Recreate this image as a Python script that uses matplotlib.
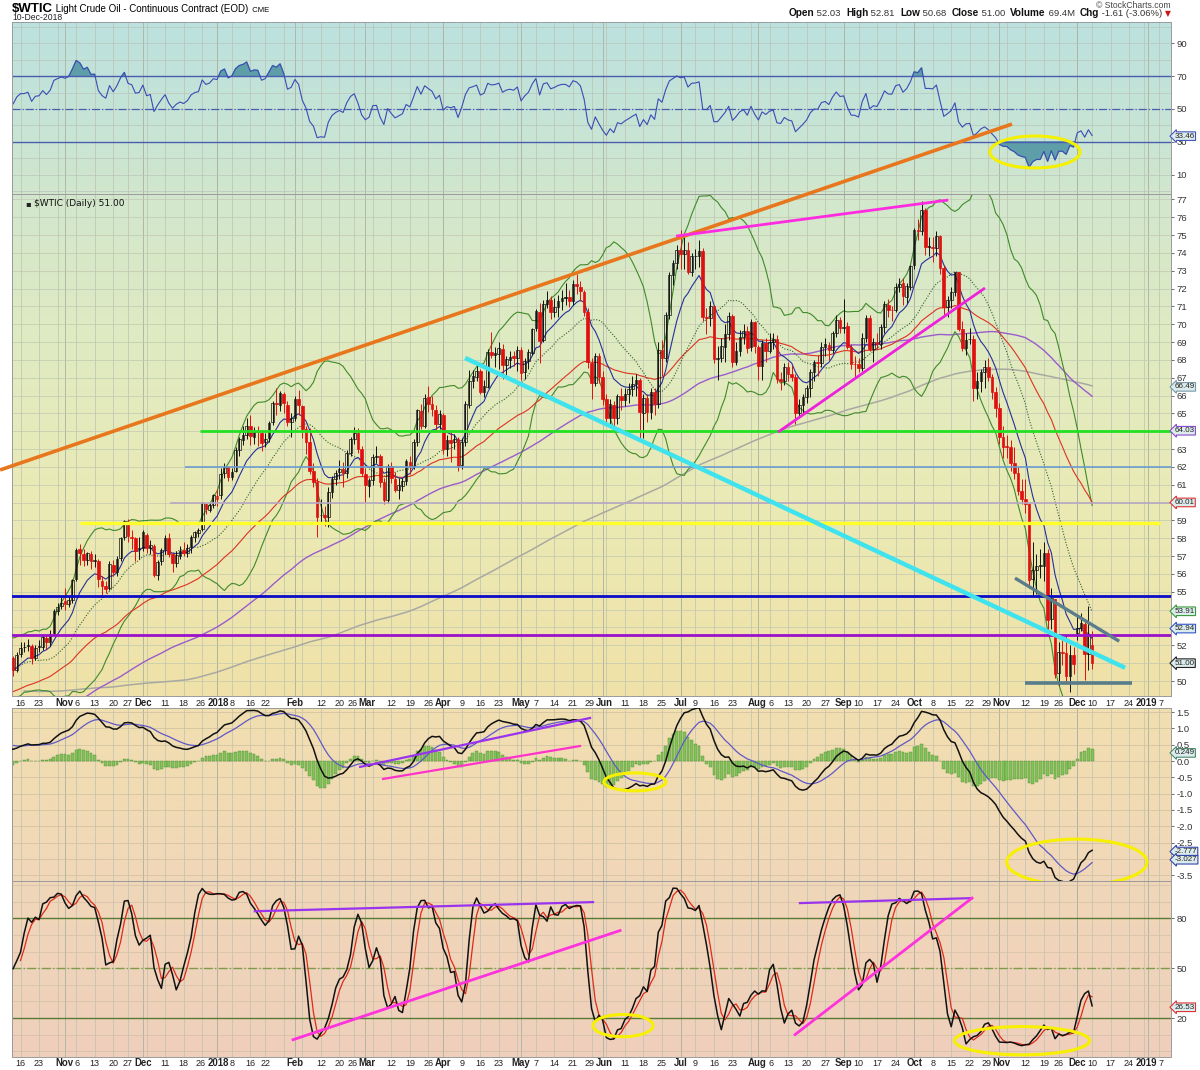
import numpy as np
import pandas as pd
import matplotlib
matplotlib.use("Agg")
import matplotlib.pyplot as plt
import matplotlib.transforms as mtransforms
from matplotlib.patches import Ellipse

plt.rcParams['font.family'] = ['Liberation Sans', 'DejaVu Sans']

W, H = 1200, 1070

holidays = ['2017-01-16', '2017-02-20', '2017-04-14', '2017-05-29', '2017-07-04',
            '2017-09-04', '2017-11-23', '2017-12-25', '2018-01-01', '2018-01-15',
            '2018-02-19', '2018-03-30', '2018-05-28', '2018-07-04', '2018-09-03',
            '2018-11-22', '2018-12-05', '2018-12-25', '2019-01-01']

# closes only, 2017-01-03 .. 2017-09-20 (used to warm up the long averages)
warmup_closes = [
    52.33, 53.26, 53.76, 53.99, 51.96, 50.82, 52.25, 53.01, 52.37, 52.48, 51.08, 51.37, 52.42, 52.75, 53.18, 52.75, 53.78, 53.17, 52.63, 52.81,
    53.88, 53.54, 53.83, 53.01, 52.17, 52.34, 53.00, 53.86, 52.93, 53.20, 53.11, 53.36, 53.40, 54.06, 53.59, 54.45, 53.99, 54.05, 54.01,
    53.83, 52.61, 53.33, 53.20, 53.14, 50.28, 49.28, 48.49, 48.40, 47.72, 48.86, 48.75, 48.78, 48.22, 47.34, 47.04, 47.70, 47.97, 47.73, 48.37, 49.51, 50.35, 50.60,
    50.24, 51.03, 51.15, 51.70, 52.24, 53.08, 53.40, 53.11, 53.18, 52.65, 52.41, 50.44, 50.27, 49.62, 49.23, 49.56, 49.62, 48.97, 49.33,
    48.84, 47.66, 47.82, 45.52, 46.22, 46.43, 45.88, 47.33, 47.83, 47.84, 48.85, 48.66, 49.07, 49.35, 50.33, 50.73, 51.47, 51.36, 48.90, 49.80, 49.66, 48.32,
    48.36, 47.66, 47.40, 48.19, 45.72, 45.64, 45.83, 46.08, 46.46, 44.73, 44.46, 44.74, 44.20, 43.23, 42.53, 42.74, 43.01, 43.38, 44.24, 44.74, 44.93, 46.04,
    47.07, 45.13, 45.52, 44.23, 44.40, 45.04, 45.49, 46.08, 46.54, 46.02, 46.40, 47.12, 46.79, 45.77, 46.34, 47.89, 48.75, 49.04, 49.71, 50.17,
    49.16, 49.59, 49.03, 49.58, 49.39, 49.17, 49.56, 48.59, 48.82, 47.59, 47.55, 46.78, 47.09, 48.51, 47.37, 47.64, 48.41, 47.43, 47.87, 46.57, 46.44, 45.96, 47.23,
    47.29, 48.66, 49.16, 49.09, 47.48, 48.07, 48.23, 49.30, 49.89, 49.89, 49.91, 49.48, 50.69,
]

# daily OHLC, 2017-09-21 .. 2018-12-10
opens = [
    50.70, 50.55, 50.70, 52.20, 51.90, 52.10, 51.55, 51.60, 50.55, 50.40, 50.00, 50.75, 49.30, 49.60, 50.90, 51.30, 50.60,
    51.50, 51.90, 51.95, 51.95, 51.30, 51.90, 51.92, 52.40, 52.20, 52.68, 53.95, 54.20,
    54.50, 54.30, 54.55, 55.70, 57.40, 57.10, 56.80, 57.10, 56.75, 56.70, 55.60, 55.30, 55.20, 56.50, 56.10, 56.90, 58.05, 58.90, 58.10, 58.00, 57.40,
    57.45, 58.20, 57.45, 57.55, 55.95, 56.70, 57.40, 58.00, 57.10, 56.60, 57.00, 57.35, 57.20, 57.50, 58.10, 58.30, 58.50, 59.95, 59.60, 59.85,
    60.20, 60.40, 61.65, 62.00, 61.45, 61.75, 62.95, 63.50, 63.80, 64.30, 63.70, 63.95, 63.90, 63.40, 63.60, 64.50, 65.60, 65.50, 66.10, 65.50, 64.50,
    64.75, 65.80, 65.40, 64.15, 63.40, 61.80, 61.15, 59.30, 59.30, 59.20, 60.60, 61.30, 61.70, 61.90, 61.65, 62.80, 63.55, 63.90, 63.00,
    61.60, 60.95, 61.25, 62.55, 62.60, 61.15, 60.15, 62.05, 61.35, 60.70, 60.95, 61.20, 62.30, 62.05, 63.40, 65.15, 64.30, 65.90, 65.55, 65.20, 64.40,
    64.90, 63.00, 63.50, 63.40, 63.55, 62.10, 63.40, 65.50, 66.80, 67.05, 67.40, 66.20, 66.50, 68.45, 68.30, 68.35, 68.60, 67.70, 68.00, 68.20, 68.10,
    68.55, 67.30, 67.95, 68.40, 69.80, 70.70, 69.10, 71.15, 71.35, 70.70, 70.95, 71.30, 71.50, 71.50, 71.30, 72.25, 72.10, 71.80, 70.70, 67.85, 66.70, 68.20,
    67.05, 65.80, 64.75, 65.50, 64.75, 65.95, 65.75, 66.10, 66.35, 66.65, 66.90, 65.05, 65.85, 65.10, 66.20, 65.55, 68.55, 68.10, 70.50, 72.75, 73.45,
    74.15, 73.95, 74.15, 72.95, 73.80, 73.85, 74.10, 70.40, 70.35, 71.00, 68.05, 68.10, 68.75, 69.45, 70.45, 67.90, 68.50, 69.30, 69.60, 68.70, 70.10,
    68.75, 67.65, 68.95, 68.50, 69.00, 69.15, 66.95, 66.80, 67.60, 67.20, 67.05, 65.00, 65.45, 65.90, 66.45, 67.35, 67.85, 67.80, 68.70, 68.85, 68.55, 69.50, 70.25,
    69.80, 69.90, 68.70, 67.75, 67.75, 67.55, 69.25, 70.35, 68.60, 69.00, 68.90, 69.85, 71.10, 70.80, 70.80, 72.10, 72.30, 71.55, 72.10,
    73.30, 75.30, 75.25, 76.40, 74.35, 74.35, 74.30, 74.95, 73.15, 70.95, 71.35, 71.80, 72.90, 69.75, 68.65, 69.15, 69.15, 66.45, 66.80, 67.35, 67.60, 67.05, 66.20,
    65.30, 63.70, 63.15, 63.10, 62.20, 61.65, 60.65, 60.20, 59.95, 55.70, 56.25, 56.45, 56.45, 57.20, 53.45, 54.60, 50.45, 51.65, 51.55, 50.30, 51.45,
    52.70, 52.95, 53.20, 51.50, 52.03,
]
highs = [
    50.90, 50.85, 52.43, 52.40, 52.40, 52.80, 51.90, 51.65, 50.80, 50.70, 50.95, 50.80, 49.90, 51.05, 51.60, 51.40, 51.60,
    52.18, 52.20, 52.35, 52.10, 52.04, 52.30, 52.62, 52.60, 52.86, 54.05, 54.38, 54.70,
    55.20, 54.75, 55.74, 57.44, 57.69, 57.40, 57.25, 57.30, 57.10, 56.85, 55.88, 55.60, 56.72, 56.78, 57.00, 58.10, 59.05, 59.10, 58.45, 58.10, 58.10,
    58.45, 58.30, 57.90, 57.70, 56.80, 57.45, 58.20, 58.30, 57.20, 57.30, 57.55, 57.80, 57.70, 58.20, 58.40, 58.55, 60.05, 60.00, 60.00, 60.51,
    60.74, 61.95, 62.21, 62.05, 61.95, 63.10, 63.67, 64.30, 64.77, 64.89, 64.25, 64.30, 64.05, 63.90, 64.60, 65.70, 66.40, 66.25, 66.20, 65.70, 65.00,
    66.00, 66.30, 65.50, 64.30, 64.20, 62.20, 61.40, 60.20, 59.80, 60.90, 61.50, 61.85, 62.40, 62.30, 62.95, 63.70, 64.25, 64.20, 63.20,
    61.95, 61.40, 62.75, 63.15, 62.75, 61.40, 62.15, 62.30, 61.70, 61.40, 61.40, 62.45, 62.60, 63.55, 65.25, 65.55, 66.10, 66.55, 66.00, 65.50, 65.20,
    65.00, 63.80, 64.00, 63.85, 63.70, 63.60, 65.70, 67.45, 67.45, 67.70, 67.50, 66.85, 68.60, 69.56, 68.70, 69.00, 68.90, 68.20, 68.50, 68.50, 68.80,
    68.70, 68.10, 68.60, 69.80, 70.84, 71.20, 71.35, 71.89, 71.60, 71.45, 71.65, 71.90, 72.30, 71.90, 72.50, 72.83, 72.45, 71.90, 70.90, 68.10, 68.40, 68.40,
    67.40, 66.10, 65.80, 65.70, 66.10, 66.40, 66.40, 66.70, 67.10, 67.20, 67.00, 66.10, 66.10, 66.40, 66.40, 69.00, 69.10, 70.70, 72.90, 73.60, 74.46,
    75.27, 75.00, 74.60, 74.00, 74.20, 74.70, 74.30, 70.90, 71.30, 71.05, 68.80, 69.20, 70.00, 70.70, 70.60, 69.00, 69.70, 70.00, 69.90, 70.30, 70.20,
    68.85, 69.10, 69.20, 69.50, 69.50, 69.40, 67.30, 67.80, 67.90, 67.70, 67.20, 65.80, 66.10, 66.60, 67.50, 68.00, 68.30, 69.00, 69.20, 69.00, 69.60, 70.50, 70.40,
    71.40, 70.10, 68.90, 68.20, 68.10, 69.50, 70.50, 70.50, 69.20, 69.50, 70.00, 71.30, 71.40, 71.00, 72.30, 72.60, 72.60, 72.30, 73.30,
    75.40, 75.90, 76.90, 76.50, 74.90, 74.90, 75.20, 75.00, 73.30, 71.60, 72.10, 72.90, 72.95, 70.20, 69.50, 69.80, 69.40, 67.30, 67.50, 68.00, 68.10, 67.20, 66.50,
    65.60, 64.30, 63.80, 63.50, 63.10, 62.00, 61.30, 61.30, 60.00, 57.80, 57.10, 57.40, 57.80, 57.40, 55.20, 54.60, 52.20, 52.30, 52.60, 52.00, 51.90,
    53.70, 53.80, 53.30, 54.22, 52.81,
]
lows = [
    50.10, 50.25, 50.60, 51.60, 51.30, 51.45, 51.20, 50.45, 50.10, 49.80, 49.80, 49.20, 49.10, 49.50, 50.70, 50.30, 50.50,
    51.35, 51.60, 51.66, 50.95, 51.20, 51.65, 51.75, 51.80, 51.95, 52.50, 53.70, 54.05,
    54.00, 54.15, 54.35, 55.60, 56.52, 56.45, 56.50, 56.30, 56.40, 55.28, 54.84, 54.95, 55.10, 55.90, 55.90, 56.75, 57.90, 57.80, 57.42, 56.75, 56.85,
    57.30, 57.15, 57.10, 55.85, 55.65, 56.50, 57.10, 56.95, 56.10, 56.40, 56.85, 57.00, 56.95, 57.20, 57.80, 58.10, 58.40, 59.35, 59.45, 59.70,
    59.81, 60.20, 61.40, 61.20, 61.25, 61.70, 62.60, 63.25, 63.55, 63.22, 63.30, 63.20, 62.90, 63.10, 63.40, 64.35, 64.90, 65.15, 65.05, 64.30, 63.67,
    64.60, 64.90, 63.60, 62.73, 61.60, 60.90, 58.07, 58.90, 58.70, 58.65, 60.25, 61.00, 61.30, 60.90, 61.40, 62.60, 63.30, 62.80, 61.50,
    60.05, 60.30, 61.00, 62.20, 60.85, 59.95, 60.00, 61.10, 60.60, 60.20, 60.65, 61.00, 61.60, 61.90, 63.20, 64.10, 64.20, 65.10, 64.85, 63.95, 64.10,
    62.70, 62.60, 62.30, 63.00, 61.80, 61.90, 63.20, 65.30, 66.40, 66.80, 66.10, 65.90, 66.40, 68.10, 67.60, 67.50, 66.95, 67.10, 67.55, 67.65, 67.40,
    66.90, 66.95, 67.50, 68.30, 69.60, 67.80, 69.00, 70.90, 70.30, 70.40, 70.40, 70.80, 71.05, 70.95, 71.05, 71.70, 71.30, 70.45, 67.55, 65.80, 66.55, 66.70,
    65.50, 64.50, 64.30, 64.30, 64.40, 65.20, 65.40, 65.60, 66.00, 66.00, 63.60, 63.60, 64.50, 64.70, 64.90, 65.30, 67.10, 67.90, 70.30, 72.20, 73.10,
    73.10, 73.10, 72.80, 72.70, 73.10, 73.20, 70.20, 69.45, 69.90, 67.85, 66.90, 67.90, 67.90, 69.10, 67.60, 67.70, 68.20, 68.90, 68.40, 68.50, 68.40,
    66.90, 66.90, 67.90, 68.40, 68.60, 66.70, 66.30, 66.60, 66.80, 66.80, 64.43, 64.80, 64.90, 65.60, 65.90, 66.80, 67.10, 67.60, 68.20, 68.00, 68.40, 69.30, 69.50,
    69.50, 68.60, 67.50, 67.00, 67.30, 67.40, 69.00, 68.50, 67.90, 68.60, 68.60, 69.50, 70.40, 70.20, 70.70, 71.80, 71.10, 71.20, 71.90,
    73.10, 74.70, 75.00, 73.90, 73.80, 73.50, 73.80, 72.80, 70.40, 70.40, 70.90, 71.60, 69.60, 68.50, 68.30, 68.90, 65.70, 65.80, 66.20, 66.40, 66.80, 65.80, 64.80,
    63.30, 62.50, 62.50, 61.80, 61.30, 60.40, 59.90, 59.40, 55.20, 54.75, 54.90, 55.80, 55.60, 52.80, 52.90, 50.15, 49.80, 50.90, 49.90, 49.40, 50.40,
    52.30, 52.80, 50.08, 50.60, 50.68,
]
closes = [
    50.55, 50.66, 52.22, 51.88, 52.14, 51.56, 51.67, 50.58, 50.42, 49.98, 50.79, 49.29, 49.58, 50.92, 51.30, 50.60, 51.45,
    51.87, 51.88, 52.04, 51.29, 51.84, 51.90, 52.47, 52.18, 52.64, 53.90, 54.15, 54.38,
    54.30, 54.54, 55.64, 57.35, 57.20, 56.81, 57.17, 56.74, 56.76, 55.70, 55.33, 55.14, 56.55, 56.09, 56.83, 58.02, 58.95, 58.11, 57.99, 57.30, 57.40,
    58.36, 57.47, 57.62, 55.96, 56.69, 57.36, 57.99, 57.14, 56.60, 57.04, 57.30, 57.16, 57.46, 58.09, 58.36, 58.47, 59.97, 59.64, 59.84, 60.42,
    60.37, 61.63, 62.01, 61.44, 61.73, 62.96, 63.57, 63.80, 64.30, 63.73, 63.97, 63.95, 63.37, 63.57, 64.47, 65.61, 65.51, 66.14, 65.56, 64.50, 64.73,
    65.80, 65.45, 64.15, 63.39, 61.79, 61.15, 59.20, 59.29, 59.19, 60.60, 61.34, 61.68, 61.90, 61.68, 62.77, 63.55, 63.91, 63.01, 61.64,
    60.99, 61.25, 62.57, 62.60, 61.15, 60.12, 62.04, 61.36, 60.71, 60.96, 61.19, 62.34, 62.06, 63.40, 65.17, 64.30, 65.88, 65.55, 65.25, 64.38, 64.94,
    63.01, 63.51, 63.37, 63.54, 62.06, 63.42, 65.51, 66.82, 67.07, 67.39, 66.22, 66.52, 68.47, 68.29, 68.38, 68.64, 67.70, 68.05, 68.19, 68.10, 68.57,
    67.25, 67.93, 68.43, 69.72, 70.73, 69.06, 71.14, 71.36, 70.70, 70.96, 71.31, 71.49, 71.49, 71.28, 72.24, 72.13, 71.84, 70.71, 67.88, 66.73, 68.21, 67.04,
    65.81, 64.75, 65.52, 64.73, 65.95, 65.74, 66.10, 66.36, 66.64, 66.89, 65.06, 65.85, 65.07, 66.22, 65.54, 68.58, 68.08, 70.53, 72.76, 73.45, 74.15,
    73.94, 74.14, 72.94, 73.80, 73.85, 74.11, 70.38, 70.33, 71.01, 68.06, 68.08, 68.76, 69.46, 70.46, 67.89, 68.52, 69.30, 69.61, 68.69, 70.13, 68.76,
    67.66, 68.96, 68.49, 69.01, 69.17, 66.94, 66.81, 67.63, 67.20, 67.04, 65.01, 65.46, 65.91, 66.43, 67.35, 67.86, 67.83, 68.72, 68.87, 68.53, 69.51, 70.25, 69.80,
    69.87, 68.72, 67.77, 67.75, 67.54, 69.25, 70.37, 68.59, 68.99, 68.91, 69.85, 71.12, 70.80, 70.78, 72.08, 72.28, 71.57, 72.12, 73.25,
    75.30, 75.23, 76.41, 74.33, 74.34, 74.29, 74.96, 73.17, 70.97, 71.34, 71.78, 72.92, 69.75, 68.65, 69.12, 69.17, 66.43, 66.82, 67.33, 67.59, 67.04, 66.18, 65.31,
    63.69, 63.14, 63.10, 62.21, 61.67, 60.67, 60.19, 59.93, 55.69, 56.25, 56.46, 56.46, 57.20, 53.43, 54.63, 50.42, 51.63, 51.56, 50.29, 51.45, 50.93,
    52.95, 53.25, 51.49, 52.61, 51.00,
]

first_shown = '2017-10-16'

date_ticks = [
    ('2017-10-16', '16'), ('2017-10-23', '23'), ('2017-11-01', 'Nov'), ('2017-11-06', '6'),
    ('2017-11-13', '13'), ('2017-11-20', '20'), ('2017-11-27', '27'), ('2017-12-01', 'Dec'),
    ('2017-12-11', '11'), ('2017-12-18', '18'), ('2017-12-26', '26'), ('2018-01-02', '2018'),
    ('2018-01-08', '8'), ('2018-01-16', '16'), ('2018-01-22', '22'), ('2018-02-01', 'Feb'),
    ('2018-02-12', '12'), ('2018-02-20', '20'), ('2018-02-26', '26'), ('2018-03-01', 'Mar'),
    ('2018-03-12', '12'), ('2018-03-19', '19'), ('2018-03-26', '26'), ('2018-04-02', 'Apr'),
    ('2018-04-09', '9'), ('2018-04-16', '16'), ('2018-04-23', '23'), ('2018-05-01', 'May'),
    ('2018-05-07', '7'), ('2018-05-14', '14'), ('2018-05-21', '21'), ('2018-05-29', '29'),
    ('2018-06-01', 'Jun'), ('2018-06-11', '11'), ('2018-06-18', '18'), ('2018-06-25', '25'),
    ('2018-07-02', 'Jul'), ('2018-07-09', '9'), ('2018-07-16', '16'), ('2018-07-23', '23'),
    ('2018-08-01', 'Aug'), ('2018-08-06', '6'), ('2018-08-13', '13'), ('2018-08-20', '20'),
    ('2018-08-27', '27'), ('2018-09-04', 'Sep'), ('2018-09-10', '10'), ('2018-09-17', '17'),
    ('2018-09-24', '24'), ('2018-10-01', 'Oct'), ('2018-10-08', '8'), ('2018-10-15', '15'),
    ('2018-10-22', '22'), ('2018-10-29', '29'), ('2018-11-01', 'Nov'), ('2018-11-12', '12'),
    ('2018-11-19', '19'), ('2018-11-26', '26'), ('2018-12-03', 'Dec'), ('2018-12-10', '10'),
    ('2018-12-17', '17'), ('2018-12-24', '24'), ('2019-01-02', '2019'), ('2019-01-07', '7'),
]

# last-value tags on the right edge
price_tags = [66.49, 64.03, 60.01, 53.91, 52.94, 51.00]
rsi_tags = [33.46]
macd_tags = [0.249, -2.777, -3.027]
stoch_tags = [26.53]

# right axis labels (the ones hidden behind value tags are left out)
price_ticks = [77, 76, 75, 74, 73, 72, 71, 70, 69, 68, 67, 66, 65, 63, 62, 61, 59, 58, 57, 56, 55, 52, 50]
macd_ticks = [1.5, 1.0, 0.5, 0.0, -0.5, -1.0, -1.5, -2.0, -2.5, -3.5]

# hand drawn annotations, in (trading day, value) units of each panel
price_trendlines = [(-5.5, 61.83, 267.4, 81.22), (176.8, 74.94, 250.2, 76.96),
                    (204.3, 63.95, 260.1, 72.03), (119.9, 68.11, 297.9, 50.74),
                    (268.2, 55.77, 296.3, 52.23)]
price_levels = [(48.4, 310.5, 64.03), (44.4, 310.5, 62.0), (40.3, 310.5, 59.97),
                (16.0, 307.3, 58.85), (-3, 310.5, 54.78), (-3, 310.5, 52.58),
                (270.9, 299.8, 49.9)]
macd_trendlines = [(91.6, -0.18, 153.6, 1.32), (97.8, -0.55, 150.9, 0.46)]
macd_ellipses = [(165.7, -0.64, 16.7, 0.55), (284.9, -3.10, 37.8, 1.41)]
stoch_trendlines = [(63.2, 84.3, 154.4, 89.8), (73.5, 7.0, 161.7, 72.7),
                    (210.2, 89.2, 256.6, 92.2), (208.9, 10.1, 256.6, 92.2)]
stoch_ellipses = [(162.5, 15.5, 16.2, 13.4), (270.1, 6.4, 36.4, 17.0)]
rsi_ellipses = [(273.6, 23.8, 24.3, 19.5)]

# ---------------------------------------------------------------- data prep
all_dates = pd.bdate_range('2017-01-03', '2019-01-18', freq='C', holidays=holidays)
n_all = len(warmup_closes) + len(closes)
zero = list(all_dates).index(pd.Timestamp(first_shown))
day_index = {d.strftime('%Y-%m-%d'): i - zero for i, d in enumerate(all_dates)}

close_all = pd.Series(warmup_closes + closes, dtype=float)
x_all = np.arange(n_all) - zero
n_ohlc = len(closes)
x_ohlc = x_all[-n_ohlc:]
o = np.array(opens); h = np.array(highs); l = np.array(lows); c = np.array(closes)

ema10 = close_all.ewm(span=10, adjust=False).mean()
sma20 = close_all.rolling(20).mean()
sd20 = close_all.rolling(20).std(ddof=0)
ema50 = close_all.ewm(span=50, adjust=False).mean()
sma100 = close_all.rolling(100).mean()
sma200 = close_all.rolling(200).mean()

delta = close_all.diff()
gain = delta.clip(lower=0).ewm(alpha=1 / 14, adjust=False).mean()
loss = (-delta.clip(upper=0)).ewm(alpha=1 / 14, adjust=False).mean()
rsi = 100 - 100 / (1 + gain / loss)

macd = close_all.ewm(span=12, adjust=False).mean() - close_all.ewm(span=24, adjust=False).mean()
signal = macd.ewm(span=9, adjust=False).mean()
hist = macd - signal

hs, ls, cs = pd.Series(h), pd.Series(l), pd.Series(c)
hh = hs.rolling(14).max(); ll = ls.rolling(14).min()
fast_k = 100 * (cs - ll) / (hh - ll)
slow_k = fast_k.rolling(3).mean()
slow_d = slow_k.rolling(3).mean()

# ---------------------------------------------------------------- figure
fig = plt.figure(figsize=(W / 100, H / 100), dpi=100)
XL = (12 - 20.5) / 3.708
XR = (1171 - 20.5) / 3.708
PX_PER_DAY = (1171 - 12) / (XR - XL)


def rect(y0, y1, x0=12, x1=1171):
    return [x0 / W, 1 - y1 / H, (x1 - x0) / W, (y1 - y0) / H]


stop_y = [22, 120, 200, 350, 500, 690, 710, 880, 1057]
stop_rgb = [(188, 225, 223), (198, 228, 214), (210, 231, 204), (224, 235, 193),
            (234, 234, 181), (240, 226, 168), (241, 223, 176), (241, 215, 184), (239, 207, 188)]


def background(ax, y0, y1):
    ys = np.linspace(y0, y1, 256)
    cols = np.stack([np.interp(ys, stop_y, [s[k] for s in stop_rgb]) for k in range(3)], axis=1) / 255
    ax.imshow(cols[:, None, :], extent=(0, 1, 0, 1), transform=ax.transAxes,
              aspect='auto', zorder=-10, interpolation='bilinear')


ax_rsi = fig.add_axes(rect(22, 194))
ax_px = fig.add_axes(rect(194, 696), zorder=3)
ax_macd = fig.add_axes(rect(708, 881))
ax_st = fig.add_axes(rect(881, 1057))
panels = [(ax_rsi, 22, 194), (ax_px, 194, 696), (ax_macd, 708, 881), (ax_st, 881, 1057)]

week_lines = sorted(set(day_index[d.strftime('%Y-%m-%d')]
                        for d in pd.Series(all_dates).groupby(all_dates.to_period('W')).min()))
month_lines = sorted(set(day_index[d.strftime('%Y-%m-%d')]
                         for d in pd.Series(all_dates).groupby(all_dates.to_period('M')).min()))

for ax, y0, y1 in panels:
    background(ax, y0, y1)
    ax.set_facecolor('none')
    for xv in week_lines:
        ax.axvline(xv, color='#bcc2b2', lw=0.5, zorder=-5)
    for xv in month_lines:
        ax.axvline(xv, color='#aab09f', lw=0.6, zorder=-5)
    for s in ax.spines.values():
        s.set_color('#9a9a9a'); s.set_linewidth(0.7)
    ax.yaxis.tick_right()
    ax.tick_params(axis='y', length=2, width=0.5, pad=2, labelsize=6.8, colors='#333333')
    ax.tick_params(axis='x', length=0, labelbottom=False)
    ax.set_xticks([])

# ---------------------------------------------------------------- RSI
for v in range(0, 101, 10):
    ax_rsi.axhline(v, color='#b9c4bc', lw=0.5, zorder=-4)
ax_rsi.axhline(70, color='#4a5cb0', lw=1.0)
ax_rsi.axhline(30, color='#4a5cb0', lw=1.0)
ax_rsi.axhline(50, color='#4a5cb0', lw=0.9, ls='-.')
ax_rsi.fill_between(x_all, 70, rsi, where=rsi > 70, color='#5e9ea8', interpolate=True, zorder=1)
ax_rsi.fill_between(x_all, 30, rsi, where=rsi < 30, color='#5e9ea8', interpolate=True, zorder=1)
ax_rsi.plot(x_all, rsi, color='#3a4cb4', lw=0.8, zorder=2)
for ex, ey, ew, eh in rsi_ellipses:
    ax_rsi.add_patch(Ellipse((ex, ey), ew, eh, fill=False, ec='#f5f000', lw=2.2, zorder=5))
ax_rsi.set_ylim(-1.8, 103)
ax_rsi.set_yticks([90, 70, 50, 30, 10])

# ---------------------------------------------------------------- price
for v in range(50, 78):
    ax_px.axhline(v, color='#c2c8b0', lw=0.5, zorder=-4)
ax_px.plot(x_all, sma200, color='#a9a9a2', lw=1.1, zorder=1)
ax_px.plot(x_all, sma100, color='#9a5ccc', lw=1.0, zorder=1)
ax_px.plot(x_all, sma20 + 2 * sd20, color='#3f8a2a', lw=0.8, zorder=1)
ax_px.plot(x_all, sma20 - 2 * sd20, color='#3f8a2a', lw=0.8, zorder=1)
ax_px.plot(x_all, ema50, color='#dd3322', lw=0.8, zorder=1)
ax_px.plot(x_all, sma20, color='#2f5f2f', lw=0.8, ls=(0, (1, 1.5)), zorder=1)
ax_px.plot(x_all, ema10, color='#26309c', lw=0.8, zorder=1)

prev = np.concatenate([[warmup_closes[-1]], c[:-1]])
col = np.where(c >= prev, '#111111', '#e01010')
face = [cc if cl < op else 'none' for cc, cl, op in zip(col, c, o)]
ax_px.vlines(x_ohlc, l, h, colors=col, lw=0.7, zorder=2)
ax_px.bar(x_ohlc, np.maximum(np.abs(c - o), 0.04), bottom=np.minimum(o, c), width=0.72,
          color=face, edgecolor=col, linewidth=0.5, zorder=3)

level_colors = ['#22e022', '#6b9bd0', '#b6a8c4', '#ffff2a', '#0b0bc8', '#9a11cc', '#587c8a']
level_widths = [2.0, 1.2, 1.2, 2.4, 2.0, 2.0, 2.6]
for (xa, xb, yv), lc, lw in zip(price_levels, level_colors, level_widths):
    ax_px.plot([xa, xb], [yv, yv], color=lc, lw=lw, zorder=4, solid_capstyle='butt')
trend_colors = ['#e8761c', '#ff2be0', '#ee22dd', '#3fe3ee', '#5b7d8b']
trend_widths = [2.6, 2.0, 2.0, 3.2, 2.4]
for (xa, ya, xb, yb), tc, lw in zip(price_trendlines, trend_colors, trend_widths):
    ax_px.plot([xa, xb], [ya, yb], color=tc, lw=lw, zorder=5, clip_on=(tc != '#e8761c'),
               solid_capstyle='butt')
ax_px.set_ylim(49.16, 77.30)
ax_px.set_yticks(price_ticks)
ax_px.text(22 / 1159, 0.982, '$WTIC (Daily) 51.00', transform=ax_px.transAxes,
           fontsize=6.5, family='DejaVu Sans', va='center', ha='left', color='#111111')
ax_px.text(13 / 1159, 0.982, '\u25aa', transform=ax_px.transAxes, fontsize=6,
           family='DejaVu Sans', va='center', ha='left', color='#222222')

# ---------------------------------------------------------------- MACD
for v in np.arange(-3.5, 1.51, 0.5):
    ax_macd.axhline(v, color='#cdbf9e', lw=0.5, zorder=-4)
ax_macd.bar(x_all, hist, width=0.75, color='#83c25a', edgecolor='#4f8e35', linewidth=0.3, zorder=1)
ax_macd.plot(x_all, signal, color='#6058c8', lw=0.9, zorder=2)
ax_macd.plot(x_all, macd, color='#111111', lw=1.1, zorder=3)
for (xa, ya, xb, yb), tc in zip(macd_trendlines, ['#9933ee', '#ff33cc']):
    ax_macd.plot([xa, xb], [ya, yb], color=tc, lw=1.6, zorder=4)
for ex, ey, ew, eh in macd_ellipses:
    ax_macd.add_patch(Ellipse((ex, ey), ew, eh, fill=False, ec='#f7f000', lw=2.2, zorder=5))
ax_macd.set_ylim(-3.68, 1.626)
ax_macd.set_yticks(macd_ticks)
ax_macd.set_yticklabels([f'{v:.1f}' for v in macd_ticks])

# ---------------------------------------------------------------- stochastics
for v in range(0, 101, 10):
    ax_st.axhline(v, color='#d2bfa8', lw=0.5, zorder=-4)
ax_st.axhline(80, color='#587a35', lw=1.0)
ax_st.axhline(20, color='#587a35', lw=1.0)
ax_st.axhline(50, color='#7d9b48', lw=1.0, ls='-.')
ax_st.plot(x_ohlc, slow_d, color='#e02a1a', lw=0.9, zorder=2)
ax_st.plot(x_ohlc, slow_k, color='#111111', lw=1.1, zorder=3)
for (xa, ya, xb, yb), tc in zip(stoch_trendlines, ['#9933ee', '#ff33dd', '#9933ee', '#ff33dd']):
    ax_st.plot([xa, xb], [ya, yb], color=tc, lw=1.6 if tc == '#9933ee' else 2.0, zorder=4)
for ex, ey, ew, eh in stoch_ellipses:
    ax_st.add_patch(Ellipse((ex, ey), ew, eh, fill=False, ec='#f7f000', lw=2.2, zorder=5))
ax_st.set_ylim(-3.4, 102.5)
ax_st.set_yticks([80, 50, 20])

for ax, _, _ in panels:
    ax.set_xlim(XL, XR)


# ---------------------------------------------------------------- value tags
def tag(ax, value, text, edge, face='#dcecec'):
    ax.annotate(text, xy=(1, value), xycoords=ax.get_yaxis_transform(), xytext=(2.5, 0),
                textcoords='offset points', va='center', ha='left', fontsize=5.8,
                color='#222222', annotation_clip=False, zorder=10,
                bbox=dict(boxstyle='larrow,pad=0.1', fc=face, ec=edge, lw=0.8))


tag(ax_rsi, rsi_tags[0], f'{rsi_tags[0]:.2f}', '#4455bb')
for v, e in zip(price_tags, ['#7a9aaa', '#8a4acc', '#dd3333', '#3a9a3a', '#3355cc', '#222222']):
    tag(ax_px, v, f'{v:.2f}', e)
for v, e in zip(macd_tags, ['#4a8a6a', '#3344aa', '#3344aa']):
    tag(ax_macd, v, f'{v:.3f}', e)
tag(ax_st, stoch_tags[0], f'{stoch_tags[0]:.2f}', '#dd3333')

# ---------------------------------------------------------------- date labels
date_rows = []
for ax_ref, ypx in [(ax_px, 703), (ax_st, 1063)]:
    tr = mtransforms.blended_transform_factory(ax_ref.transData, fig.transFigure)
    row = []
    for d, lab in date_ticks:
        bold = not lab.isdigit() or len(lab) == 4
        row.append(fig.text(day_index[d], 1 - ypx / H, lab, transform=tr, ha='center',
                            va='center', fontsize=6.9 if bold else 6.5,
                            fontweight='bold' if bold else 'normal', color='#222222'))
    date_rows.append(row)

# push apart labels that touch (e.g. "29 Nov", "26 Mar")
fig.canvas.draw()
renderer = fig.canvas.get_renderer()
for row in date_rows:
    for _ in range(8):
        moved = False
        for a, b in zip(row[:-1], row[1:]):
            gap = b.get_window_extent(renderer).x0 - a.get_window_extent(renderer).x1
            if gap < 1.5:
                shift = (1.5 - gap) / 2 / PX_PER_DAY
                a.set_x(a.get_position()[0] - shift)
                b.set_x(b.get_position()[0] + shift)
                moved = True
        if not moved:
            break

# ---------------------------------------------------------------- header
t0 = fig.text(12 / W, 1 - 9 / H, '$WTIC', fontsize=9.5, fontweight='bold', va='center', ha='left')
t1 = ax_rsi.annotate(' Light Crude Oil - Continuous Contract (EOD)', xy=(1, 0.12), xycoords=t0,
                     fontsize=7, va='bottom', ha='left', annotation_clip=False)
ax_rsi.annotate('  CME', xy=(1, 0), xycoords=t1, fontsize=5.5, va='bottom', ha='left',
                annotation_clip=False)
fig.text(12 / W, 1 - 17.5 / H, '10-Dec-2018', fontsize=6.2, va='center', ha='left', color='#222222')
fig.text(1171 / W, 1 - 5 / H, '\u00a9 StockCharts.com', fontsize=6.2, va='center', ha='right',
         color='#444444')

pieces = [('Open', True), (' 52.03  ', False), ('High', True), (' 52.81  ', False),
          ('Low', True), (' 50.68  ', False), ('Close', True), (' 51.00  ', False),
          ('Volume', True), (' 69.4M  ', False), ('Chg', True), (' -1.61 (-3.06%) ', False)]
last = fig.text(1171 / W, 1 - 16 / H, '\u25bc', fontsize=5.5, color='#cc1111', va='baseline',
                ha='right', family=['DejaVu Sans'])
for txt, b in reversed(pieces):
    last = ax_rsi.annotate(txt, xy=(0, 0), xycoords=last, va='bottom', ha='right',
                           fontsize=7.2 if b else 6.8, fontweight='bold' if b else 'normal',
                           color='#111111' if b else '#333333', annotation_clip=False)

fig.savefig('out.png', dpi=100)
